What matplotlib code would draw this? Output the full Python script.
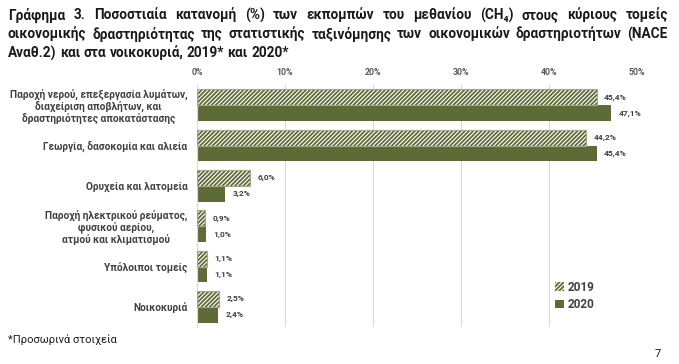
import matplotlib
matplotlib.use("Agg")
import matplotlib.pyplot as plt
from matplotlib.patches import Patch
import numpy as np

# ---------------- data ----------------
categories = [
    "Παροχή νερού, επεξεργασία λυμάτων,\nδιαχείριση αποβλήτων, και\nδραστηριότητες αποκατάστασης",
    "Γεωργία, δασοκομία και αλιεία",
    "Ορυχεία και λατομεία",
    "Παροχή ηλεκτρικού ρεύματος,\nφυσικού αερίου,\nατμού και κλιματισμού",
    "Υπόλοιποι τομείς",
    "Νοικοκυριά",
]
values_2019 = [45.4, 44.2, 6.0, 0.9, 1.1, 2.5]
values_2020 = [47.1, 45.4, 3.2, 1.0, 1.1, 2.4]
series_labels = ["2019", "2020"]
x_ticks = [0, 10, 20, 30, 40, 50]
x_tick_labels = ["0%", "10%", "20%", "30%", "40%", "50%"]
title_lines = [
    "Γράφημα 3. Ποσοστιαία κατανομή (%) των εκπομπών του μεθανίου (CH₄) στους κύριους τομείς",
    "οικονομικής δραστηριότητας της στατιστικής ταξινόμησης των οικονομικών δραστηριοτήτων (NACE",
    "Αναθ.2) και στα νοικοκυριά, 2019* και 2020*",
]
footnote = "*Προσωρινά στοιχεία"
page_number = "7"

# ---------------- style ----------------
FAM = ["Roboto", "DejaVu Sans"]
plt.rcParams["font.family"] = FAM
plt.rcParams["hatch.linewidth"] = 1.3
OLIVE = "#5f6b37"
TXT = "#404040"
HATCH = "/" * 8

W_PX, H_PX = 679, 364
fig = plt.figure(figsize=(W_PX / 100, H_PX / 100), dpi=100)
fig.patch.set_facecolor("white")

# axes: x from 197px to 637px, y from 85px to 327px
ax = fig.add_axes([197 / W_PX, 1 - 327 / H_PX, 440 / W_PX, 242 / H_PX])

y = np.arange(len(categories))
h = 0.39
b19 = ax.barh(y - h / 2, values_2019, height=h, facecolor="white",
              edgecolor=OLIVE, hatch=HATCH, linewidth=0, zorder=2)
ax.barh(y - h / 2, values_2019, height=h, facecolor="none",
        edgecolor="#a3a68a", linewidth=0.8, zorder=3)
b20 = ax.barh(y + h / 2, values_2020, height=h, color=OLIVE, linewidth=0, zorder=2)

def fmt(v):
    return f"{v:.1f}".replace(".", ",") + "%"

for bars, vals in ((b19, values_2019), (b20, values_2020)):
    for rect, v in zip(bars, vals):
        ax.annotate(fmt(v), xy=(rect.get_width(), rect.get_y() + rect.get_height() / 2),
                    xytext=(5.5, 0), textcoords="offset points", ha="left", va="center",
                    fontsize=6, fontweight="bold", color=TXT)

ax.set_xlim(0, 50)
ax.set_ylim(len(categories) - 0.5, -0.5)
ax.set_xticks(x_ticks)
ax.set_xticklabels(x_tick_labels, fontsize=6.3, fontweight="bold", color="#595959")
ax.xaxis.tick_top()
ax.tick_params(axis="x", length=0, pad=6)
ax.set_yticks(y)
ax.set_yticklabels(categories, fontsize=7.3, color=TXT, fontweight="bold",
                   multialignment="center", linespacing=1.1)
ax.tick_params(axis="y", length=0, pad=7)
ax.set_axisbelow(True)
ax.xaxis.grid(True, color="#d9d9d9", linewidth=0.8)
for s in ("top", "right", "bottom"):
    ax.spines[s].set_visible(False)
ax.spines["left"].set_color("#d9d9d9")
ax.spines["left"].set_linewidth(0.8)

handles = [Patch(facecolor="white", edgecolor=OLIVE, hatch=HATCH, linewidth=0),
           Patch(facecolor=OLIVE, edgecolor=OLIVE, linewidth=0)]
leg = ax.legend(handles, series_labels, loc="upper left", bbox_to_anchor=(0.80, 0.215),
                frameon=False, handlelength=0.75, handleheight=0.75,
                handletextpad=0.3, borderpad=0, labelspacing=0.35,
                prop={"weight": "bold", "size": 8.5, "family": FAM})
for t in leg.get_texts():
    t.set_color(TXT)

# ---------------- title (justified) ----------------
renderer = fig.canvas.get_renderer()
x0_px, x1_px = 8, 668
probe = fig.text(0, 0, title_lines[2], fontsize=10, fontweight="bold")
w3 = probe.get_window_extent(renderer).width
probe.remove()
tsize = 10 * 280 / w3
line_y_px = [15, 34, 53]

def put_line(text, ypx, justify):
    words = text.split(" ")
    objs = [fig.text(0, 1 - ypx / H_PX, w, fontsize=tsize, fontweight="bold",
                     color="#1a1a1a", va="center", ha="left") for w in words]
    widths = [o.get_window_extent(renderer).width for o in objs]
    space = tsize * 100 / 72 * 0.25
    gap = (x1_px - x0_px - sum(widths)) / (len(words) - 1) if justify else space
    x = x0_px
    for o, w in zip(objs, widths):
        o.set_x(x / W_PX)
        x += w + gap

put_line(title_lines[0], line_y_px[0], True)
put_line(title_lines[1], line_y_px[1], True)
put_line(title_lines[2], line_y_px[2], False)

fig.text(8 / W_PX, 1 - 340 / H_PX, footnote, fontsize=8, color="#1a1a1a", va="center")
fig.text(655 / W_PX, 1 - 354 / H_PX, page_number, fontsize=8, color="#1a1a1a", va="center")

fig.savefig("out.png", dpi=100, facecolor="white")
